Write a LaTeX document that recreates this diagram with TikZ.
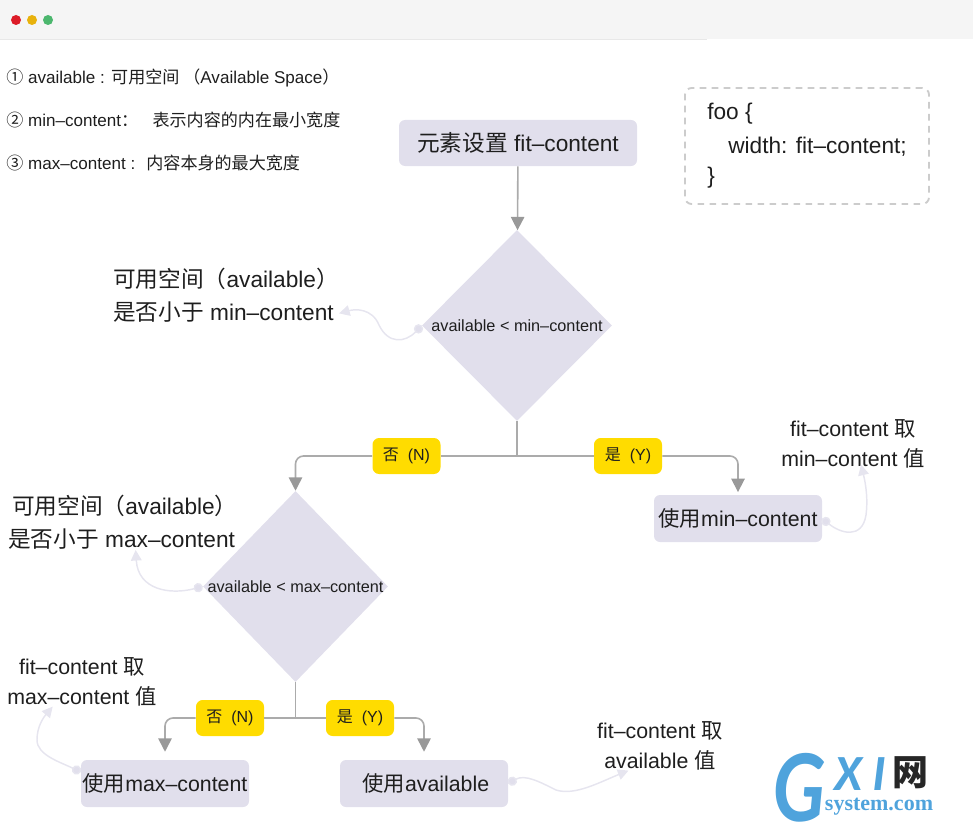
\documentclass[tikz,border=0pt]{standalone}
\usepackage{fontspec}
\setmainfont{Liberation Sans}
\newfontfamily\cjk{Noto Sans CJK SC}
\newfontfamily\logofont{Carlito}
\newfontfamily\logoserif{Liberation Serif}
\newcommand{\zh}[1]{{\cjk #1}}
\usetikzlibrary{arrows.meta,shapes.geometric}

\definecolor{barback}{HTML}{F5F5F5}
\definecolor{barline}{HTML}{E8E8E8}
\definecolor{dotred}{HTML}{DC1C28}
\definecolor{dotyellow}{HTML}{E8B20C}
\definecolor{dotgreen}{HTML}{4CB76E}
\definecolor{stepfill}{HTML}{E1DFEC}
\definecolor{flowgray}{HTML}{ABABAB}
\definecolor{tipgray}{HTML}{999999}
\definecolor{hintgray}{HTML}{E6E5EF}
\definecolor{badgeyellow}{HTML}{FFDC00}
\definecolor{inkdark}{HTML}{1E1E1E}
\definecolor{logoblue}{HTML}{4FA3DC}

\tikzset{
  stepbox/.style={draw=none,fill=stepfill,rounded corners=4.5pt,inner sep=0pt,text=inkdark,
    minimum width=126pt,minimum height=35.25pt,font=\fontsize{16pt}{20pt}\selectfont},
  decision/.style={draw=none,fill=stepfill,diamond,inner sep=0pt,
    label={[text=inkdark,font=\fontsize{12.2pt}{15pt}\selectfont]center:#1}},
  badge/.style={draw=none,fill=badgeyellow,rounded corners=5pt,inner sep=0pt,text=inkdark,
    minimum width=51pt,minimum height=27pt,font=\fontsize{12pt}{15pt}\selectfont},
  note/.style={inner sep=0pt,text=inkdark,font=\fontsize{17pt}{24.75pt}\selectfont},
  valuenote/.style={inner sep=0pt,text=inkdark,align=center,font=\fontsize{16pt}{22.5pt}\selectfont},
  legend/.style={anchor=west,inner sep=0pt,text=inkdark,font=\fontsize{12.8pt}{16pt}\selectfont},
  codeline/.style={anchor=west,inner sep=0pt,text=inkdark,font=\fontsize{17pt}{24pt}\selectfont},
  markletter/.style={inner sep=0pt,text=logoblue,font=\logofont\itshape\bfseries\fontsize{38pt}{38pt}\selectfont},
  flowline/.style={draw=flowgray,line width=1.2pt},
  flowarrow/.style={flowline,rounded corners=6pt,-{Triangle[width=10pt,length=10pt,fill=tipgray,color=tipgray]}},
  hint/.style={draw=hintgray,line width=1.1pt,{Circle[length=7pt,fill=stepfill]}-{Triangle[width=8pt,length=8pt]}},
}

\begin{document}
\begin{tikzpicture}[x=0.75pt,y=-0.75pt]

    \useasboundingbox (0,0) rectangle (973,838);

    %window bar
    \fill[barback] (0,0) rectangle (973,39);
    \draw[barline] (0,39.5) -- (707,39.5);
    \fill[dotred] (16,20) circle (5);
    \fill[dotyellow] (32,20) circle (5);
    \fill[dotgreen] (48,20) circle (5);

    %legend
    \node[legend] (legendA) at (6,78) {\zh{①} available : \zh{可用空间 （}Available Space\zh{）}};
    \node[legend] (legendB) at (6,120) {\zh{②} min--content\zh{：\hspace{.85em}表示内容的内在最小宽度}};
    \node[legend] (legendC) at (6,163) {\zh{③} max--content :\hspace{.65em}\zh{内容本身的最大宽度}};

    %css snippet
    \node[draw=black!20,line width=1.4pt,dash pattern=on 5pt off 4pt,rounded corners=5pt,
      minimum width=183pt,minimum height=87pt,inner sep=0pt] (snippet) at (807,146) {};
    \node[codeline] (fooOpen) at (707,114) {foo \{};
    \node[codeline] (fooWidth) at (728,147) {width: fit--content;};
    \node[codeline] (fooClose) at (707,178) {\}};

    %steps
    \node[stepbox,minimum width=178.5pt,minimum height=34.5pt,font=\fontsize{17pt}{20pt}\selectfont]
      (start) at (518,143) {\zh{元素设置} fit--content};
    \node[decision={available < min--content},minimum width=142.5pt,minimum height=143.25pt] (askMin) at (517,325.5) {};
    \node[decision={available < max--content},minimum width=138.75pt,minimum height=143.25pt] (askMax) at (295.5,586.5) {};
    \node[stepbox] (useMin) at (738,518.5) {\zh{使用}min--content};
    \node[stepbox] (useMax) at (165,783.5) {\zh{使用}max--content};
    \node[stepbox] (useAvail) at (424,783.5) {\,\zh{使用}available};

    %badges
    \node[badge] (noA) at (406.5,456) {\zh{否}\ \ (N)};
    \node[badge] (yesA) at (628,456) {\zh{是}\ \ (Y)};
    \node[badge] (noB) at (230,718) {\zh{否}\ \ (N)};
    \node[badge] (yesB) at (360,718) {\zh{是}\ \ (Y)};
    \coordinate (jointA) at (askMin.south |- noA);
    \coordinate (jointB) at (askMax.south |- noB);

    %flow
    \draw[flowarrow] (start) -- (askMin);
    \draw[flowline] (askMin.south) -- (jointA);
    \draw[flowline] (noA.east) -- (yesA.west);
    \draw[flowarrow] (noA.west) -| (askMax.north);
    \draw[flowarrow,shorten >=2pt] (yesA.east) -| (useMin.north);
    \draw[flowline] (askMax.south) -- (jointB);
    \draw[flowline] (noB.east) -- (yesB.west);
    \draw[flowarrow,shorten >=6pt] (noB.west) -| (useMax.north);
    \draw[flowarrow,shorten >=6pt] (yesB.east) -| (useAvail.north);

    %side notes
    \node[note,align=left,anchor=west] (noteMin) at (113,295.5) {\zh{可用空间（}available\zh{）}\\\zh{是否小于} min--content};
    \node[note,align=left,anchor=west] (noteMax) at (8,522.5) {\,\zh{可用空间（}available\zh{）}\\\zh{是否小于} max--content};
    \node[valuenote] (valueMin) at (853,444) {fit--content \zh{取}\\min--content \zh{值}};
    \node[valuenote] (valueMax) at (82,682) {fit--content \zh{取}\\max--content \zh{值}};
    \node[valuenote] (valueAvail) at (660,746) {fit--content \zh{取}\\available \zh{值}};

    %thin pointers
    \draw[hint] (askMin.west) .. controls (405,343) and (388,344) .. (379,325)
      .. controls (372,308) and (355,309) .. (noteMin.-9);
    \draw[hint] (askMax.west) .. controls (170,595) and (138,590) .. (noteMax.-65);
    \draw[hint] (useMin.east) .. controls (840,533) and (862,540) .. (866,515)
      .. controls (868,500) and (866,485) .. ([yshift=3pt]valueMin.-72);
    \draw[hint] (useMax.west |- 0,772) .. controls (60,762) and (37,755) .. (37,740)
      .. controls (37,727) and (43,718) .. (valueMax.-140);
    \draw[hint] (useAvail.east) .. controls (525,774) and (540,782) .. (556,790)
      .. controls (575,796) and (600,782) .. (valueAvail.-142);

    %site mark
    \node[inner sep=0pt,text=logoblue,xscale=0.78,transform shape,
      font=\logofont\bfseries\itshape\fontsize{78pt}{78pt}\selectfont] (markG) at (799,788) {G};
    \node[markletter] (markX) at (848,774) {X};
    \node[markletter] (markI) at (879,774) {I};
    \node[inner sep=0pt,text=black!85,font=\cjk\bfseries\fontsize{27pt}{27pt}\selectfont] (markNet) at (910,773) {网};
    \node[inner sep=0pt,text=logoblue,font=\logoserif\bfseries\fontsize{16.5pt}{17pt}\selectfont] (markSite) at (879,807) {system.com};

\end{tikzpicture}
\end{document}
